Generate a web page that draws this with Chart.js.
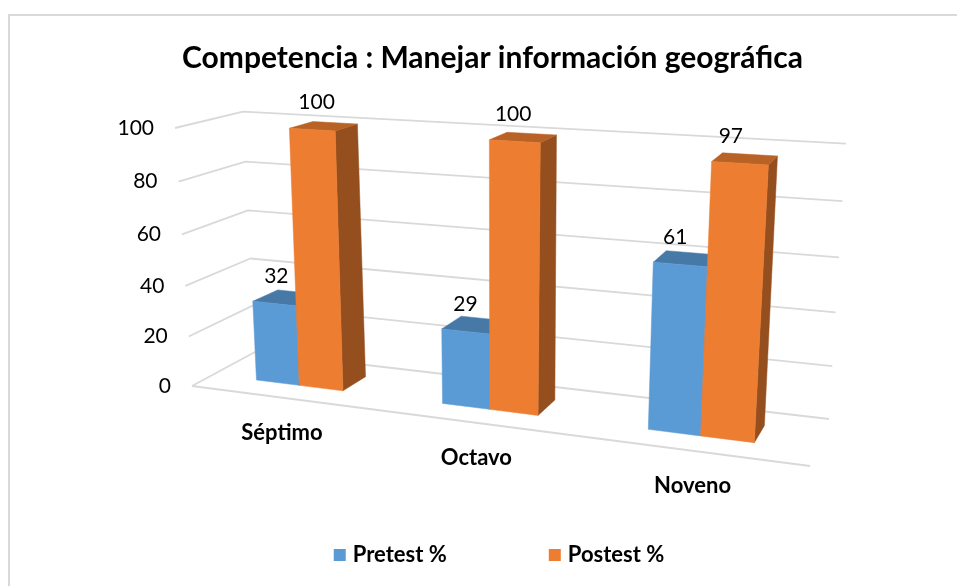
<!DOCTYPE html>
<html>
<head>
<meta charset="utf-8">
<title>Competencia : Manejar información geográfica</title>
<style>
html,body{margin:0;padding:0;background:#fff;overflow:hidden;width:957px;height:586px}
#frame{position:absolute;left:8px;top:14px;right:0;bottom:0;border-left:2px solid #d9d9d9;border-top:2px solid #d9d9d9}
canvas{position:absolute;left:0;top:0}
</style>
</head>
<body>
<div id="frame"></div>
<canvas id="c" width="957" height="586"></canvas>
<script src="https://cdn.jsdelivr.net/npm/chart.js@4"></script>
<script>
const categories = ['Séptimo', 'Octavo', 'Noveno'];
const pretest = [32, 29, 61];
const postest = [100, 100, 97];
const seriesNames = ['Pretest %', 'Postest %'];
const seriesColors = ['#5B9BD5', '#ED7D31'];
const chartTitle = 'Competencia : Manejar información geográfica';
const FONT = 'Lato';

// Perspective planes of the 3-D scene: corners [bottom-left, bottom-right, top-right, top-left]
const PLANES = {
  floorFront: [[192,386],[810,466],[828,165.5],[175,128]],
  backWall:   [[255,352],[829,419],[846,143.7],[243,111.7]],
  barFront:   [[210.7,374.2],[814.8,450.3],[833,159.6],[196.8,123]],
  barBack:    [[237,361],[822.9,432.8],[840,150.6],[222.9,116.6]]
};
// Horizontal label offsets (px) per series and category, as hand-placed in the reference
const LABEL_NUDGE = [[2,0,-5],[4.5,-1.5,-9]];

function homography(q){
  const [[x0,y0],[x1,y1],[x2,y2],[x3,y3]] = q;
  const dx1=x1-x2, dx2=x3-x2, dx3=x0-x1+x2-x3, dy1=y1-y2, dy2=y3-y2, dy3=y0-y1+y2-y3;
  const den=dx1*dy2-dx2*dy1;
  const g=(dx3*dy2-dx2*dy3)/den, h=(dx1*dy3-dx3*dy1)/den;
  const a=x1-x0+g*x1, b=x3-x0+h*x3, d=y1-y0+g*y1, e=y3-y0+h*y3;
  return (u,v)=>{const w=g*u+h*v+1;return [(a*u+b*v+x0)/w,(d*u+e*v+y0)/w];};
}
const H = {};
Object.keys(PLANES).forEach(k=>{H[k]=homography(PLANES[k]);});

function shade(hex,f){
  const n=parseInt(hex.slice(1),16);
  return `rgb(${Math.round((n>>16&255)*f)},${Math.round((n>>8&255)*f)},${Math.round((n&255)*f)})`;
}
function poly(ctx,pts,fill){
  ctx.beginPath();
  pts.forEach((p,i)=>i?ctx.lineTo(p[0],p[1]):ctx.moveTo(p[0],p[1]));
  ctx.closePath();
  ctx.fillStyle=fill;
  ctx.fill();
  ctx.strokeStyle=fill;
  ctx.lineWidth=0.5;
  ctx.stroke();
}

// Bars keep the library's geometry (x, y, base, width) and are drawn projected as 3-D prisms.
const BarElement = Chart.BarElement;
let activeArea = null;
BarElement.prototype.draw = function(ctx){
  const a = activeArea; if(!a) return;
  const {x,y,base,width} = this;
  const u0=(x-width/2-a.left)/a.width, u1=(x+width/2-a.left)/a.width;
  const v0=(a.bottom-base)/a.height, v1=(a.bottom-y)/a.height;
  const col=this.options.backgroundColor;
  const F=H.barFront, B=H.barBack;
  ctx.save();
  poly(ctx,[F(u1,v0),B(u1,v0),B(u1,v1),F(u1,v1)],shade(col,0.63));
  poly(ctx,[F(u0,v1),F(u1,v1),B(u1,v1),B(u0,v1)],shade(col,0.78));
  poly(ctx,[F(u0,v0),F(u1,v0),F(u1,v1),F(u0,v1)],col);
  ctx.restore();
};

const scene3d = {
  id:'scene3d',
  afterLayout(chart){
    activeArea = chart.chartArea;
    const lg = chart.legend, tb = chart.titleBlock;
    tb.left += 28;
    lg.left += 45;
    lg.top = 555 - lg.options.labels.font.size/2 - lg.options.labels.padding;
  },
  // Datasets are painted first to last so that the second series covers the first one.
  beforeDatasetDraw(){ return false; },
  beforeDatasetsDraw(chart){
    const ctx=chart.ctx, a=chart.chartArea, ys=chart.scales.y;
    ctx.save();
    ctx.strokeStyle='#d9d9d9';
    ctx.lineWidth=1.8;
    ctx.lineJoin='round';
    ctx.textBaseline='middle';
    ys.ticks.forEach(t=>{
      const v=(a.bottom-ys.getPixelForValue(t.value))/a.height;
      const p=H.floorFront(0,v), q=H.backWall(0,v), r=H.backWall(1,v);
      ctx.beginPath();ctx.moveTo(p[0],p[1]);ctx.lineTo(q[0],q[1]);ctx.lineTo(r[0],r[1]);ctx.stroke();
      ctx.fillStyle='#000';
      ctx.font=`21px ${FONT}`;
      ctx.textAlign='right';
      ctx.fillText(t.label,p[0]-21,p[1]);
    });
    const s=H.floorFront(0,0), e=H.floorFront(1,0);
    ctx.beginPath();ctx.moveTo(s[0],s[1]);ctx.lineTo(e[0],e[1]);ctx.stroke();
    const xs=chart.scales.x;
    ctx.fillStyle='#000';
    ctx.font=`bold 22px ${FONT}`;
    ctx.textAlign='center';
    xs.ticks.forEach((t,i)=>{
      const u=(xs.getPixelForTick(i)-a.left)/a.width;
      const p=H.floorFront(u,0);
      ctx.fillText(xs.getLabelForValue(t.value),p[0],p[1]+35.5);
    });
    ctx.restore();
  },
  afterDatasetsDraw(chart){
    const ctx=chart.ctx, a=chart.chartArea;
    chart.data.datasets.forEach((ds,di)=>chart.getDatasetMeta(di).controller.draw());
    ctx.save();
    ctx.fillStyle='#000';
    ctx.font=`21px ${FONT}`;
    ctx.textAlign='center';
    ctx.textBaseline='middle';
    chart.data.datasets.forEach((ds,di)=>{
      chart.getDatasetMeta(di).data.forEach((el,i)=>{
        const u=(el.x-a.left)/a.width, v=(a.bottom-el.y)/a.height;
        const p=H.barFront(u,v);
        ctx.fillText(String(ds.data[i]),p[0]+LABEL_NUDGE[di][i],p[1]-27);
      });
    });
    ctx.restore();
  }
};

new Chart(document.getElementById('c'),{
  type:'bar',
  data:{
    labels:categories,
    datasets:[
      {label:seriesNames[0],data:pretest,backgroundColor:seriesColors[0]},
      {label:seriesNames[1],data:postest,backgroundColor:seriesColors[1]}
    ]
  },
  options:{
    responsive:false,
    animation:false,
    categoryPercentage:0.477,
    barPercentage:1,
    layout:{padding:0},
    scales:{
      x:{display:false,stacked:false},
      y:{display:false,min:0,max:100,ticks:{stepSize:20}}
    },
    plugins:{
      title:{display:true,text:chartTitle,color:'#000',font:{family:FONT,size:30,weight:'bold'},padding:{top:40,bottom:8}},
      legend:{position:'bottom',labels:{color:'#000',usePointStyle:true,pointStyle:'rect',boxWidth:4,boxHeight:12,padding:106,font:{family:FONT,size:22,weight:'bold'}}},
      tooltip:{enabled:false}
    }
  },
  plugins:[scene3d]
});
</script>
</body>
</html>
